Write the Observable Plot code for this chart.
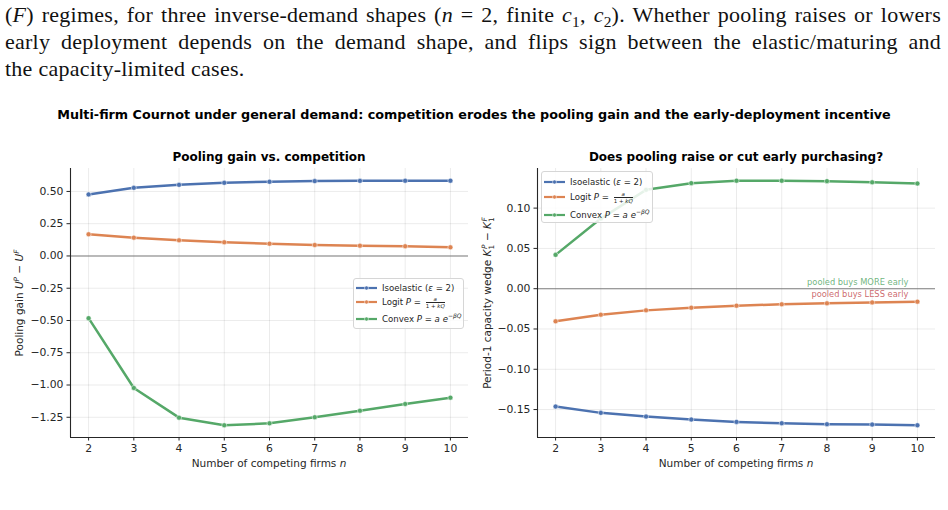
<!DOCTYPE html>
<html>
<head>
<meta charset="utf-8">
<script src="https://cdn.jsdelivr.net/npm/d3@7"></script>
<script src="https://cdn.jsdelivr.net/npm/@observablehq/plot@0.6"></script>
<style>
  html, body { margin: 0; padding: 0; background: #fff; }
  body { width: 948px; height: 510px; position: relative; overflow: hidden; font-family: "DejaVu Sans", sans-serif; }
  .para { position: absolute; left: 5px; width: 936px; font-family: "Liberation Serif", "DejaVu Serif", serif; font-size: 22px; letter-spacing: 0.25px; color: #111; white-space: nowrap; }
  .just { text-align: justify; text-align-last: justify; white-space: normal; }
  .suptitle { position: absolute; left: 0; width: 948px; top: 107px; text-align: center; font-weight: bold; font-size: 12.75px; color: #000; }
  .ptitle { position: absolute; top: 150px; text-align: center; font-weight: bold; font-size: 12px; color: #000; }
  .panel { position: absolute; top: 140px; }
  .xlab { position: absolute; top: 457px; text-align: center; font-size: 10.5px; color: #262626; }
  .ylab { position: absolute; width: 240px; height: 16px; line-height: 16px; text-align: center; font-size: 10.5px; color: #262626; white-space: nowrap; transform-origin: center center; transform: rotate(-90deg); }
  .legend { position: absolute; background: rgba(255,255,255,0.85); border: 1px solid #d6d6d6; border-radius: 3px; font-size: 8.6px; color: #262626; }
  .row { position: absolute; left: 2px; display: flex; align-items: center; white-space: nowrap; }
  .row svg { margin-right: 5px; }
  .frac { display: inline-flex; flex-direction: column; vertical-align: middle; font-size: 5.5px; line-height: 6px; text-align: center; margin-left: 2px; }
  .frac .num { border-bottom: 0.6px solid #262626; padding: 0 1px; font-style: italic; }
  sup, sub { font-size: 70%; line-height: 0; }
</style>
</head>
<body>
<div class="para just" style="top:2px;">(<i>F</i>) regimes, for three inverse-demand shapes (<i>n</i> = 2, finite <i>c</i><sub>1</sub>, <i>c</i><sub>2</sub>). Whether pooling raises or lowers</div>
<div class="para just" style="top:29px;">early deployment depends on the demand shape, and flips sign between the elastic/maturing and</div>
<div class="para" style="top:56px;">the capacity-limited cases.</div>

<div class="suptitle">Multi-firm Cournot under general demand: competition erodes the pooling gain and the early-deployment incentive</div>
<div class="ptitle" style="left:70px;width:398px;">Pooling gain vs. competition</div>
<div class="ptitle" style="left:537px;width:398px;">Does pooling raise or cut early purchasing?</div>

<div id="left" class="panel" style="left:0px;"></div>
<div id="right" class="panel" style="left:467px;"></div>

<div class="xlab" style="left:70px;width:398px;">Number of competing firms <i>n</i></div>
<div class="xlab" style="left:537px;width:398px;">Number of competing firms <i>n</i></div>
<div class="ylab" style="left:-101px;top:294.5px;">Pooling gain <i>U</i><sup><i>P</i></sup> − <i>U</i><sup><i>F</i></sup></div>
<div class="ylab" style="left:367px;top:294.5px;">Period-1 capacity wedge <i>K</i><sub>1</sub><sup style="margin-left:-4px"><i>P</i></sup> − <i>K</i><sub>1</sub><sup style="margin-left:-4px"><i>F</i></sup></div>

<div id="legL" class="legend" style="left:353px;top:278px;width:109px;height:49px;"></div>
<div id="legR" class="legend" style="left:541px;top:171px;width:110px;height:50px;"></div>

<script>
// ---- data ----
const firms = [2, 3, 4, 5, 6, 7, 8, 9, 10];
const seriesNames = ["Isoelastic", "Logit", "Convex"];
const seriesColors = ["#4C72B0", "#DD8452", "#55A868"];

const gainIsoelastic = [0.477, 0.528, 0.551, 0.567, 0.575, 0.580, 0.582, 0.583, 0.583];
const gainLogit = [0.168, 0.142, 0.121, 0.106, 0.095, 0.085, 0.080, 0.075, 0.067];
const gainConvex = [-0.482, -1.023, -1.253, -1.312, -1.297, -1.250, -1.199, -1.147, -1.098];

const wedgeIsoelastic = [-0.1463, -0.1541, -0.1587, -0.1624, -0.1653, -0.1670, -0.1682, -0.1686, -0.1695];
const wedgeLogit = [-0.0405, -0.0322, -0.0269, -0.0236, -0.0211, -0.0194, -0.0182, -0.0170, -0.0161];
const wedgeConvex = [0.042, 0.087, 0.1227, 0.131, 0.134, 0.134, 0.1335, 0.132, 0.1305];

const gainTicks = [-1.25, -1.0, -0.75, -0.5, -0.25, 0, 0.25, 0.5];
const wedgeTicks = [-0.15, -0.10, -0.05, 0, 0.05, 0.10];
const annotMore = "pooled buys MORE early";
const annotLess = "pooled buys LESS early";

// ---- build tidy tables ----
function tidy(arrs) {
  const out = [];
  arrs.forEach((vals, i) => vals.forEach((v, j) => out.push({n: firms[j], v, s: seriesNames[i]})));
  return out;
}
const gainData = tidy([gainIsoelastic, gainLogit, gainConvex]);
const wedgeData = tidy([wedgeIsoelastic, wedgeLogit, wedgeConvex]);

function pad(vals) {
  const lo = d3.min(vals), hi = d3.max(vals), m = (hi - lo) * 0.05;
  return [lo - m, hi + m];
}
const xDomain = [1.6, 10.4];

function panel(data, ticks, extra) {
  const yDomain = pad(data.map(d => d.v));
  return Plot.plot({
    width: 474, height: 340,
    marginLeft: 70, marginRight: 6, marginTop: 28, marginBottom: 43,
    style: {fontFamily: "DejaVu Sans, sans-serif", fontSize: "10.8px", color: "#262626", background: "transparent", overflow: "visible"},
    x: {domain: xDomain},
    y: {domain: yDomain},
    color: {domain: seriesNames, range: seriesColors},
    marks: [
      Plot.gridX(firms, {stroke: "#000", strokeOpacity: 0.08, strokeWidth: 1}),
      Plot.gridY(ticks, {stroke: "#000", strokeOpacity: 0.08, strokeWidth: 1}),
      Plot.ruleY([0], {stroke: "#7f7f7f", strokeWidth: 1.1}),
      Plot.line(data, {x: "n", y: "v", z: "s", stroke: "s", strokeWidth: 2.5}),
      Plot.dot(data, {x: "n", y: "v", fill: "s", r: 2.5, stroke: "white", strokeWidth: 0.5}),
      ...extra,
      Plot.ruleX([xDomain[0]], {stroke: "#262626", strokeWidth: 1.1}),
      Plot.ruleY([yDomain[0]], {stroke: "#262626", strokeWidth: 1.1}),
      Plot.axisX(firms, {tickSize: 3.5, tickPadding: 3.5, tickFormat: d => String(d), label: null, stroke: "#262626", fontSize: 10.8, fill: "#262626"}),
      Plot.axisY(ticks, {tickSize: 3.5, tickPadding: 3.5, tickFormat: d3.format(".2f"), label: null, stroke: "#262626", fontSize: 10.8, fill: "#262626"})
    ]
  });
}

document.getElementById("left").appendChild(panel(gainData, gainTicks, []));
document.getElementById("right").appendChild(panel(wedgeData, wedgeTicks, [
  Plot.text([annotMore], {x: 9.8, y: 0, text: d => d, textAnchor: "end", dy: -6, fill: "#55A868", fillOpacity: 0.85, fontSize: 8.3}),
  Plot.text([annotLess], {x: 9.8, y: 0, text: d => d, textAnchor: "end", dy: 6, fill: "#C44E52", fillOpacity: 0.85, fontSize: 8.3})
]));

// ---- legends ----
const labelsHTML = [
  "Isoelastic (<i>ε</i> = 2)",
  "Logit <i>P</i> = <span class='frac'><span class='num'>a</span><span>1 + <i>kQ</i></span></span>",
  "Convex <i>P</i> = <i>a</i> <i>e</i><sup>−<i>βQ</i></sup>"
];
function legend(id, rowsY) {
  const box = document.getElementById(id);
  seriesNames.forEach((s, i) => {
    const row = document.createElement("div");
    row.className = "row";
    row.style.top = (rowsY[i] - 6) + "px";
    row.style.height = "12px";
    const c = seriesColors[i];
    row.innerHTML = `<svg width="21" height="6"><line x1="0" y1="3" x2="21" y2="3" stroke="${c}" stroke-width="2.2"/><circle cx="10.5" cy="3" r="2" fill="${c}" stroke="white" stroke-width="0.5"/></svg><span>${labelsHTML[i]}</span>`;
    box.appendChild(row);
  });
}
legend("legL", [9, 23, 40]);
legend("legR", [10, 25, 43]);
</script>
</body>
</html>
